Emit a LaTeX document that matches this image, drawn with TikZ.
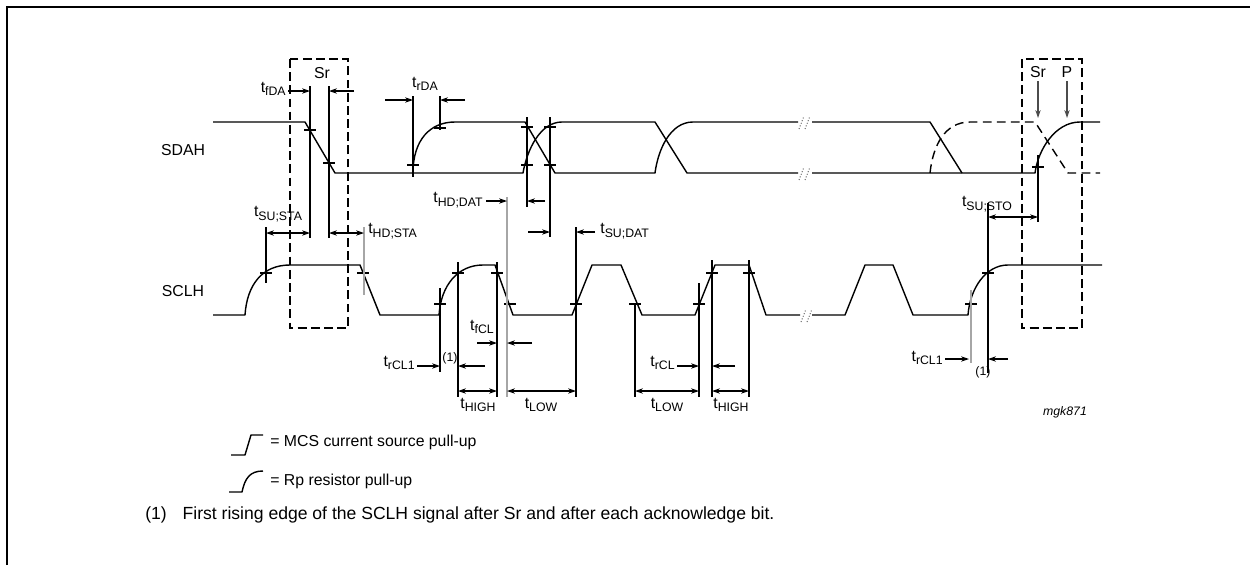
\documentclass[tikz,border=0pt]{standalone}
\usepackage{fontspec}
\setmainfont{Liberation Sans}
\usetikzlibrary{arrows.meta}
\tikzset{
    wave/.style={line width=0.8pt, line join=round},
    wavedash/.style={wave, dash pattern=on 5pt off 3pt},
    guide/.style={line width=0.6pt},
    greyguide/.style={line width=1.4pt, black!35},
    srbox/.style={line width=0.8pt, dash pattern=on 5pt off 2.5pt},
    tickmark/.style={line width=0.6pt},
    dimto/.style={line width=0.6pt, -{Stealth[length=4.5pt,width=3pt]}},
    dimboth/.style={line width=0.6pt, {Stealth[length=4.5pt,width=3pt]}-{Stealth[length=4.5pt,width=3pt]}},
    breakmark/.style={line width=0.6pt, black!55, densely dotted},
    lbl/.style={inner sep=0pt, font=\fontsize{9}{10}\selectfont},
    foot/.style={inner sep=0pt, anchor=west, font=\fontsize{10}{12}\selectfont}
}
\newcommand{\tsig}[1]{t\raisebox{-0.45ex}{\fontsize{7}{8}\selectfont #1}}

\begin{document}
\begin{tikzpicture}[x=0.02cm, y=-0.02cm]
  \useasboundingbox (0,0) rectangle (1250,565);
  \draw [line width=1.6pt] (7,565) -- (7,7) -- (1250,7);

  \node [lbl] (sdah) at (183,150) {SDAH};
  \node [lbl] (sclh) at (183,291) {SCLH};

  % start and stop windows
  \draw [srbox] (290,59) rectangle (348,328);
  \draw [srbox] (1022,59) rectangle (1082,328);
  \node [lbl] (srstart) at (322,73) {Sr};
  \node [lbl] (srstop) at (1038,72) {Sr};
  \node [lbl] (pstop) at (1067,72) {P};
  \coordinate (srhit) at (1038,118);
  \coordinate (phit) at (1067,118);
  \draw [dimto, black!70] (srstop) ++(0,9) -- (srhit);
  \draw [dimto, black!70] (pstop) ++(0,9) -- (phit);

  % SDAH
  \draw [wave] (213,122) -- (305,122) -- (335,173) -- (523,173)
    .. controls (527,150) and (540,122) .. (562,122) -- (655,122) -- (687,173) -- (798,173);
  \draw [wave] (413,173) .. controls (413,140) and (430,122) .. (455,122) -- (525,122)
    -- (555,173) -- (655,173) .. controls (658,150) and (670,122) .. (693,122) -- (798,122);
  \draw [wave] (812,122) -- (930,122) -- (962,173);
  \draw [wave] (812,173) -- (1035,173) .. controls (1038,150) and (1055,122) .. (1080,122) -- (1100,122);
  \draw [wavedash] (930,173) .. controls (933,145) and (945,122) .. (970,122) -- (1035,122)
    -- (1068,173) -- (1100,173);

  % SCLH
  \draw [wave] (213,315) -- (245,315) .. controls (247,285) and (262,265) .. (290,265) -- (360,265)
    -- (380,315) -- (439,315) .. controls (441,285) and (458,265) .. (483,265) -- (495,265)
    -- (513,315) -- (572,315) -- (592,265) -- (621,265) -- (642,315) -- (695,315)
    -- (715,265) -- (749,265) -- (766,315) -- (800,315);
  \draw [wave] (812,315) -- (845,315) -- (865,265) -- (893,265) -- (913,315) -- (968,315)
    .. controls (970,288) and (986,265) .. (1008,265) -- (1102,265);

  \draw [breakmark] (799,129) -- (804,116) (805,129) -- (810,116)
                    (799,180) -- (804,167) (805,180) -- (810,167)
                    (801,322) -- (806,309) (807,322) -- (812,309);

  % crossing marks
  \draw [tickmark] (310,130) +(-6,0) -- +(6,0) (329,163) +(-6,0) -- +(6,0)
    (413,165) +(-6,0) -- +(6,0) (440,128) +(-6,0) -- +(6,0)
    (527,127) +(-6,0) -- +(6,0) (527,165) +(-6,0) -- +(6,0)
    (550,127) +(-6,0) -- +(6,0) (550,165) +(-6,0) -- +(6,0)
    (1038,167) +(-6,0) -- +(6,0)
    (266,273) +(-6,0) -- +(6,0) (363,273) +(-6,0) -- +(6,0)
    (440,304) +(-6,0) -- +(6,0) (458,273) +(-6,0) -- +(6,0)
    (497,273) +(-6,0) -- +(6,0) (510,304) +(-6,0) -- +(6,0)
    (576,304) +(-6,0) -- +(6,0) (635,304) +(-6,0) -- +(6,0)
    (699,304) +(-6,0) -- +(6,0) (712,273) +(-6,0) -- +(6,0)
    (749,273) +(-6,0) -- +(6,0) (971,304) +(-6,0) -- +(6,0)
    (988,273) +(-6,0) -- +(6,0);

  % reference lines
  \draw [guide] (310,86) -- (310,238) (329,86) -- (329,238)
    (413,96) -- (413,177) (440,96) -- (440,130)
    (527,117) -- (527,207) (550,117) -- (550,237)
    (1038,155) -- (1038,222)
    (266,227) -- (266,283) (440,288) -- (440,372)
    (458,262) -- (458,397) (497,262) -- (497,397)
    (576,227) -- (576,397) (635,303) -- (635,397)
    (699,283) -- (699,397) (712,260) -- (712,397)
    (749,260) -- (749,397) (988,203) -- (988,373);
  \draw [greyguide] (364,227) -- (364,295) (507,197) -- (507,397) (971,290) -- (971,363);

  % timing labels
  \node [lbl, anchor=east] (tfda) at (286,89) {\tsig{fDA}};
  \draw [dimto] (288,91) -- (310,91);
  \draw [dimto] (354,91) -- (329,91);
  \node [lbl] (trda) at (425,84) {\tsig{rDA}};
  \draw [dimto] (385,100) -- (413,100);
  \draw [dimto] (465,100) -- (440,100);
  \node [lbl] (tsusta) at (278,214) {\tsig{SU;STA}};
  \draw [dimboth] (266,233) -- (310,233);
  \draw [dimboth] (329,233) -- (364,233);
  \node [lbl, anchor=west] (thdsta) at (368,231) {\tsig{HD;STA}};
  \node [lbl, anchor=east] (thddat) at (483,200) {\tsig{HD;DAT}};
  \draw [dimto] (486,201) -- (507,201);
  \draw [dimto] (545,201) -- (527,201);
  \draw [dimto] (528,232) -- (550,232);
  \draw [dimto] (595,232) -- (576,232);
  \node [lbl, anchor=west] (tsudat) at (600,231) {\tsig{SU;DAT}};
  \node [lbl] (tfcl) at (482,327) {\tsig{fCL}};
  \draw [dimto] (477,343) -- (497,343);
  \draw [dimto] (532,343) -- (507,343);
  \node [lbl, anchor=east] (trclone) at (415,363) {\tsig{rCL1}};
  \node [lbl, font=\fontsize{7}{8}\selectfont] (noteone) at (450,358) {(1)};
  \draw [dimto] (417,366) -- (440,366);
  \draw [dimto] (485,366) -- (458,366);
  \node [lbl, anchor=east] (trcl) at (675,363) {\tsig{rCL}};
  \draw [dimto] (677,366) -- (699,366);
  \draw [dimto] (735,366) -- (712,366);
  \draw [dimboth] (458,391) -- (497,391);
  \draw [dimboth] (507,391) -- (576,391);
  \draw [dimboth] (635,391) -- (699,391);
  \draw [dimboth] (712,391) -- (749,391);
  \node [lbl] (thigh) at (478,405) {\tsig{HIGH}};
  \node [lbl] (tlow) at (541,405) {\tsig{LOW}};
  \node [lbl] (tlowtwo) at (667,405) {\tsig{LOW}};
  \node [lbl] (thightwo) at (731,405) {\tsig{HIGH}};
  \node [lbl] (tsusto) at (987,204) {\tsig{SU;STO}};
  \draw [dimboth] (988,217) -- (1038,217);
  \node [lbl, anchor=east] (trcltwo) at (943,358) {\tsig{rCL1}};
  \draw [dimto] (945,359) -- (969,359);
  \draw [dimto] (1008,359) -- (988,359);
  \node [lbl, font=\fontsize{7}{8}\selectfont] (notetwo) at (983,372) {(1)};
  \node [lbl, font=\fontsize{7}{8}\selectfont\itshape] (figid) at (1065,412) {mgk871};

  % legend
  \draw [wave] (231,455) -- (245,455) -- (251,435) -- (263,435);
  \node [lbl, anchor=west] (mcs) at (270,442) {= MCS current source pull-up};
  \draw [wave] (229,492) -- (242,492) .. controls (245,478) and (250,471) .. (263,471);
  \node [lbl, anchor=west] (rp) at (270,481) {= Rp resistor pull-up};
  \node [foot] (note) at (145,515) {(1)\hspace{0.9em}First rising edge of the SCLH signal after Sr and after each acknowledge bit.};
\end{tikzpicture}
\end{document}
